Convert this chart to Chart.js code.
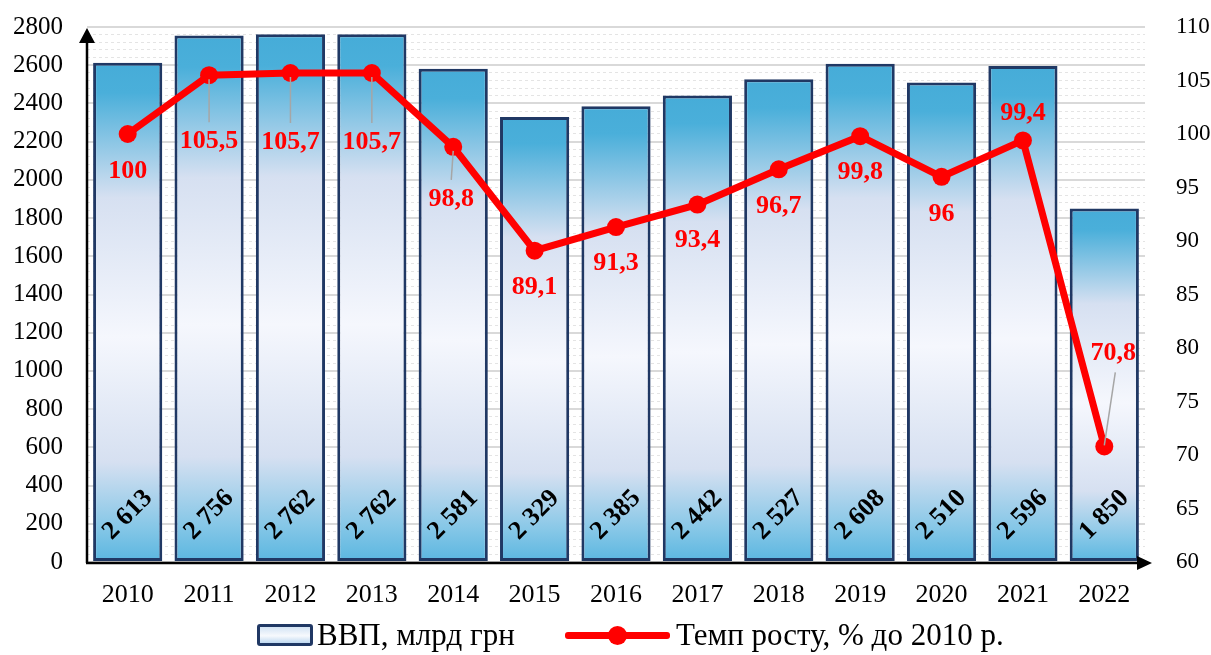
<!DOCTYPE html>
<html>
<head>
<meta charset="utf-8">
<script src="https://cdn.jsdelivr.net/npm/chart.js@4.4.0/dist/chart.umd.min.js"></script>
<style>
  body { margin: 0; background: #fff; }
  #wrap { position: relative; width: 1211px; height: 655px; }
  .lg-text { position: absolute; top: 617px; font-family: "Liberation Serif", "Times New Roman", serif; font-size: 31px; line-height: 36px; color: #000; white-space: nowrap; }
  #lgBarIcon { position: absolute; left: 257px; top: 624px; width: 50px; height: 16px; border: 3px solid #203864; border-radius: 3px;
    background: linear-gradient(#D3E3F4, #F7F9FD 55%, #BFD9F0); }
  #lgLineIcon { position: absolute; left: 565px; top: 632px; width: 105px; height: 7px; background: #FF0000; border-radius: 3px; }
  #lgLineIcon::after { content: ""; position: absolute; left: 43px; top: -6px; width: 19px; height: 19px; border-radius: 50%; background: #FF0000; }
</style>
</head>
<body>
<div id="wrap">
  <canvas id="chart" width="1211" height="655"></canvas>
  <div id="lgBarIcon"></div>
  <div class="lg-text" id="lgBarText" style="left:317px"></div>
  <div id="lgLineIcon"></div>
  <div class="lg-text" id="lgLineText" style="left:676px"></div>
</div>
<script>
// data
const years = ["2010", "2011", "2012", "2013", "2014", "2015", "2016", "2017", "2018", "2019", "2020", "2021", "2022"]
const gdp = [2613, 2756, 2762, 2762, 2581, 2329, 2385, 2442, 2527, 2608, 2510, 2596, 1850]
const growth = [100, 105.5, 105.7, 105.7, 98.8, 89.1, 91.3, 93.4, 96.7, 99.8, 96, 99.4, 70.8]
const seriesNames = ["ВВП, млрд грн", "Темп росту, % до 2010 р."]

const FONT = '"Liberation Serif", "Times New Roman", serif'

document.getElementById("lgBarText").textContent = seriesNames[0]
document.getElementById("lgLineText").textContent = seriesNames[1]

// where each red label sits relative to its point: dx, dy, leader line
const growthLabelPos = [
    [0, 37, false], [0, 66, true], [0, 69, true], [0, 69, true], [-2, 52, true],
    [0, 37, false], [0, 36, false], [0, 36, false], [0, 37, false], [0, 36, false],
    [0, 37, false], [0, -27, false], [9, -93, true]
]

function fmtGdp (v) {
    return String(v).replace(/\B(?=(\d{3})+(?!\d))/g, " ")
}
function fmtGrowth (v) {
    return String(v).replace(".", ",")
}

// each bar: blue at top and bottom, almost white in the middle
function barFill (ctx) {
    const chart = ctx.chart
    const y = chart.scales.y
    if (!chart.chartArea || !y || ctx.raw === undefined) return "#4BAFDA"
    const top = y.getPixelForValue(ctx.raw)
    const base = y.getPixelForValue(0)
    const g = chart.ctx.createLinearGradient(0, top, 0, base)
    g.addColorStop(0, "#46ACD8")
    g.addColorStop(0.06, "#4AAFDA")
    g.addColorStop(0.27, "#D6E0F1")
    g.addColorStop(0.55, "#F5F7FD")
    g.addColorStop(0.8, "#D6E0F1")
    g.addColorStop(0.93, "#86C7E7")
    g.addColorStop(1, "#5AB6E0")
    return g
}

// tick padding is only wanted for the label offset, not for the chart area
function noVertPadding (s) {
    s.paddingTop = 0
    s.paddingBottom = 0
}

const decorPlugin = {
    id: "decor",
    afterDatasetsDraw (chart) {
        const c = chart.ctx
        const a = chart.chartArea

        // axis lines with arrows
        c.save()
        c.strokeStyle = "#000"
        c.fillStyle = "#000"
        c.lineWidth = 2.5
        c.beginPath()
        c.moveTo(a.left, a.bottom + 1)
        c.lineTo(a.left, a.top + 12)
        c.moveTo(a.left - 1, a.bottom + 1)
        c.lineTo(a.right - 2, a.bottom + 1)
        c.stroke()
        c.beginPath()
        c.moveTo(a.left, a.top + 1)
        c.lineTo(a.left - 8, a.top + 16)
        c.lineTo(a.left + 8, a.top + 16)
        c.closePath()
        c.fill()
        c.beginPath()
        c.moveTo(a.right + 7, a.bottom + 1)
        c.lineTo(a.right - 8, a.bottom - 6)
        c.lineTo(a.right - 8, a.bottom + 8)
        c.closePath()
        c.fill()
        c.restore()

        // values inside the bars
        const bars = chart.getDatasetMeta(0).data
        c.save()
        c.font = "bold 26px " + FONT
        c.fillStyle = "#000"
        c.textAlign = "center"
        c.textBaseline = "middle"
        bars.forEach((bar, i) => {
            c.save()
            c.translate(bar.x, a.bottom - 47)
            c.rotate(-Math.PI / 4)
            c.fillText(fmtGdp(gdp[i]), 0, 0)
            c.restore()
        })
        c.restore()

        // growth labels
        const pts = chart.getDatasetMeta(1).data
        c.save()
        pts.forEach((p, i) => {
            const [dx, dy, leader] = growthLabelPos[i]
            const lx = p.x + dx
            const ly = p.y + dy
            if (leader) {
                c.strokeStyle = "#A6A6A6"
                c.lineWidth = 1.5
                c.beginPath()
                c.moveTo(p.x, p.y + (dy > 0 ? 4 : -1))
                c.lineTo(lx + (dx > 0 ? 2 : 0), ly - Math.sign(dy) * 19)
                c.stroke()
            }
        })
        c.font = "bold 26px " + FONT
        c.fillStyle = "#FF0000"
        c.textAlign = "center"
        c.textBaseline = "middle"
        pts.forEach((p, i) => {
            const [dx, dy] = growthLabelPos[i]
            c.fillText(fmtGrowth(growth[i]), p.x + dx, p.y + dy)
        })
        c.restore()
    }
}

const config = {
    data: {
        labels: years,
        datasets: [{
            type: "bar",
            label: seriesNames[0],
            data: gdp,
            yAxisID: "y",
            backgroundColor: barFill,
            borderColor: "#203864",
            borderWidth: 3,
            borderSkipped: false,
            barPercentage: 0.85,
            categoryPercentage: 1,
            order: 2
        }, {
            type: "line",
            label: seriesNames[1],
            data: growth,
            yAxisID: "y1",
            borderColor: "#FF0000",
            backgroundColor: "#FF0000",
            borderWidth: 7,
            pointRadius: 9,
            pointBackgroundColor: "#FF0000",
            pointBorderWidth: 0,
            tension: 0,
            order: 1
        }]
    },
    options: {
        responsive: false,
        animation: false,
        events: [],
        layout: { padding: { top: 27, left: 0, right: 0, bottom: 48 } },
        plugins: {
            legend: { display: false },
            tooltip: { enabled: false }
        },
        scales: {
            x: {
                grid: { display: false, drawTicks: false },
                border: { display: false },
                ticks: { color: "#000", font: { family: FONT, size: 26 }, padding: 18, maxRotation: 0 },
                afterFit (s) { s.height = 45 }
            },
            y: {
                position: "left",
                min: 0,
                max: 2800,
                ticks: { stepSize: 200, color: "#000", font: { family: FONT, size: 25 }, padding: 24, callback: (v) => String(v) },
                grid: { color: "#D9D9D9", lineWidth: 2, drawTicks: false },
                border: { display: false },
                afterFit (s) { s.width = 87; noVertPadding(s) }
            },
            yMinor: {
                type: "linear",
                position: "left",
                min: 0,
                max: 2800,
                ticks: { display: false, stepSize: 40 },
                grid: {
                    color: (ctx) => ctx.tick && ctx.tick.value % 200 === 0 ? "rgba(0,0,0,0)" : "#E4E4E4",
                    lineWidth: 1,
                    drawTicks: false
                },
                border: { display: false, dash: [3, 3] },
                afterFit (s) { s.width = 0; noVertPadding(s) }
            },
            y1: {
                position: "right",
                min: 60,
                max: 110,
                ticks: { stepSize: 5, color: "#000", font: { family: FONT, size: 23 }, padding: 31 },
                grid: { display: false, drawTicks: false },
                border: { display: false },
                afterFit (s) { s.width = 66; noVertPadding(s) }
            }
        }
    },
    plugins: [decorPlugin]
}

const chart = new Chart(document.getElementById("chart").getContext("2d"), config)
</script>
</body>
</html>
